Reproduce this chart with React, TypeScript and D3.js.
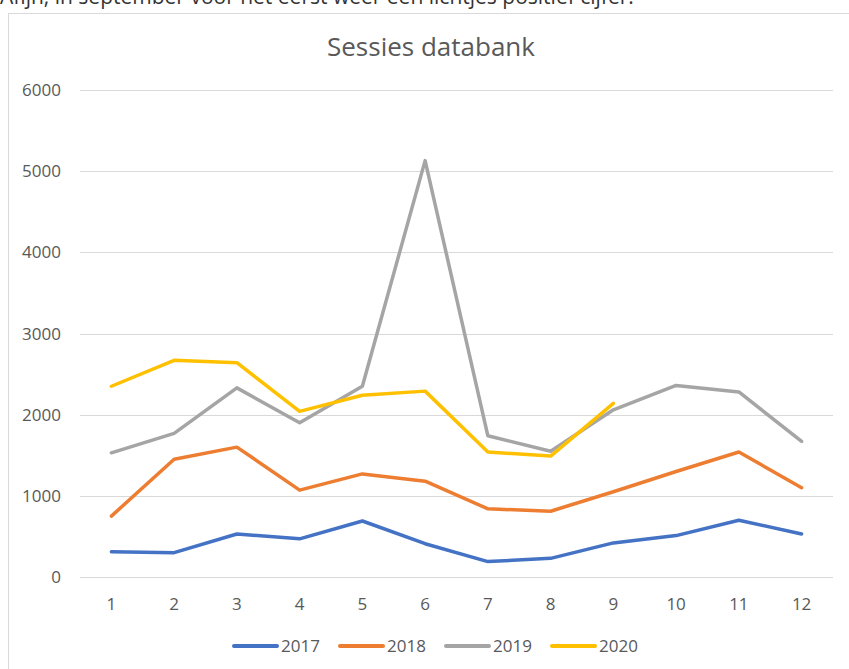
import React, { useEffect, useRef } from 'react';
import * as d3 from 'd3';

const months = ['1', '2', '3', '4', '5', '6', '7', '8', '9', '10', '11', '12'];
const yTicks = [0, 1000, 2000, 3000, 4000, 5000, 6000];

const sessions2017 = [310, 300, 530, 470, 690, 410, 190, 230, 420, 510, 700, 530];
const sessions2018 = [750, 1450, 1600, 1070, 1270, 1180, 840, 810, 1050, 1300, 1540, 1100];
const sessions2019 = [1530, 1770, 2330, 1900, 2350, 5130, 1740, 1550, 2060, 2360, 2280, 1670];
const sessions2020 = [2350, 2670, 2640, 2040, 2240, 2290, 1540, 1490, 2140];

const seriesNames = ['2017', '2018', '2019', '2020'];
const seriesColors = ['#4472C4', '#ED7D31', '#A5A5A5', '#FFC000'];

const App = () => {
    const chartRef = useRef<SVGSVGElement>(null);

    useEffect(() => {
        const svg = d3.select(chartRef.current);
        svg.selectAll('*').remove();

        const font = '"Open Sans", sans-serif';
        const allSeries = [sessions2017, sessions2018, sessions2019, sessions2020];

        // text line of the page above the chart, cut off by the screenshot
        svg.append('text')
            .attr('x', 0)
            .attr('y', 4)
            .attr('font-family', font)
            .attr('font-size', 21)
            .attr('fill', '#333')
            .text('Afijn, in september voor het eerst weer een lichtjes positief cijfer.');

        // chart frame
        svg.append('rect')
            .attr('x', 8.5)
            .attr('y', 13.5)
            .attr('width', 860)
            .attr('height', 700)
            .attr('fill', '#fff')
            .attr('stroke', '#d9d9d9');

        svg.append('text')
            .attr('x', 431)
            .attr('y', 56)
            .attr('text-anchor', 'middle')
            .attr('font-family', font)
            .attr('font-size', 26)
            .attr('fill', '#595959')
            .text('Sessies databank');

        const xScale = d3.scaleBand()
            .domain(months)
            .range([80, 833]);

        const yScale = d3.scaleLinear()
            .domain([0, 6000])
            .range([577, 90]);

        svg.append('g')
            .selectAll('line')
            .data(yTicks)
            .enter()
            .append('line')
            .attr('x1', 80)
            .attr('x2', 833)
            .attr('y1', d => Math.round(yScale(d)) + 0.5)
            .attr('y2', d => Math.round(yScale(d)) + 0.5)
            .attr('stroke', '#d9d9d9')
            .attr('stroke-width', 1);

        svg.append('g')
            .selectAll('text')
            .data(yTicks)
            .enter()
            .append('text')
            .attr('x', 61)
            .attr('y', d => yScale(d) + 6)
            .attr('text-anchor', 'end')
            .attr('font-family', font)
            .attr('font-size', 17)
            .attr('fill', '#595959')
            .text(d => d);

        svg.append('g')
            .selectAll('text')
            .data(months)
            .enter()
            .append('text')
            .attr('x', d => xScale(d)! + xScale.bandwidth() / 2)
            .attr('y', 610)
            .attr('text-anchor', 'middle')
            .attr('font-family', font)
            .attr('font-size', 17)
            .attr('fill', '#595959')
            .text(d => d);

        const lineGenerator = d3.line<number>()
            .x((d, i) => xScale(months[i])! + xScale.bandwidth() / 2)
            .y(d => yScale(d));

        allSeries.forEach((values, i) => {
            svg.append('path')
                .datum(values)
                .attr('fill', 'none')
                .attr('stroke', seriesColors[i])
                .attr('stroke-width', 3.5)
                .attr('stroke-linejoin', 'round')
                .attr('stroke-linecap', 'round')
                .attr('d', lineGenerator);
        });

        // legend
        const legend = svg.append('g')
            .selectAll('g')
            .data(seriesNames)
            .enter()
            .append('g')
            .attr('transform', (d, i) => `translate(${234 + i * 106},646)`);

        legend.append('line')
            .attr('x1', 0)
            .attr('x2', 43)
            .attr('stroke', (d, i) => seriesColors[i])
            .attr('stroke-width', 4)
            .attr('stroke-linecap', 'round');

        legend.append('text')
            .attr('x', 47)
            .attr('y', 6)
            .attr('font-family', font)
            .attr('font-size', 17)
            .attr('fill', '#595959')
            .text(d => d);
    }, []);

    return (
        <svg
            ref={chartRef}
            width={849}
            height={669}
            style={{ position: 'absolute', left: 0, top: 0, background: '#fff' }}
        />
    );
};

export default App;
